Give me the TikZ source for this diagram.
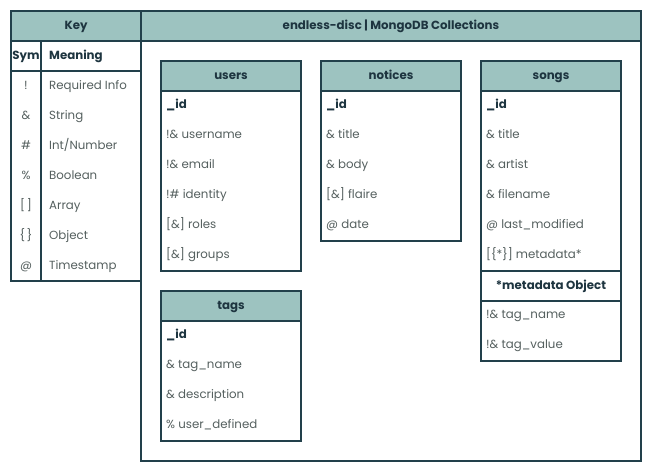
\documentclass[tikz,border=0pt]{standalone}
\usepackage{fontspec}
\setmainfont{Poppins}
\definecolor{hdr}{HTML}{9DC3C0}
\definecolor{edge}{HTML}{22404B}
\definecolor{ftxt}{HTML}{55605F}
\definecolor{htxt}{HTML}{1E3540}
\begin{document}
\begin{tikzpicture}[x=1pt,y=-1pt,
  box/.style={draw=edge,line width=1.6pt},
  hbox/.style={box,fill=hdr},
  htext/.style={font=\bfseries\fontsize{11.8}{13}\selectfont,text=htxt,text height=8.5pt,text depth=2.5pt,inner sep=0pt},
  ftext/.style={font=\fontsize{11.8}{13}\selectfont,text=ftxt,anchor=west,inner sep=0pt,text height=8.5pt,text depth=2.5pt},
  idtext/.style={ftext,font=\bfseries\fontsize{11.8}{13}\selectfont,text=htxt}]
\useasboundingbox (0,0) rectangle (652,472);
\fill[white] (0,0) rectangle (652,472);

% main frame
\draw[box] (141,11) rectangle (641,461);
\draw[hbox] (141,11) rectangle (641,41);
\node[htext] (main) at (391,26) {endless-disc | MongoDB Collections};

% key
\draw[box] (11,11) rectangle (141,281);
\draw[hbox] (11,11) rectangle (141,41);
\draw[box] (11,71) -- (141,71);
\draw[box] (41,41) -- (41,281);
\node[htext] (key) at (76,26) {Key};
\node[htext] (sym) at (26,56) {Sym};
\node[idtext] (meaning) at (49,56) {Meaning};
\foreach \s/\m [count=\i] in {{!}/{Required Info},{\&}/{String},{\#}/{Int/Number},{\%}/{Boolean},{[\,]}/{Array},{\{\,\}}/{Object},{@}/{Timestamp}}{
  \node[ftext,anchor=center] (sym-\i) at (26,56+30*\i) {\s};
  \node[ftext] (mean-\i) at (49,56+30*\i) {\m};
}

% users
\draw[box] (161,61) rectangle (301,271);
\draw[hbox] (161,61) rectangle (301,91);
\node[htext] (users) at (231,76) {users};
\node[idtext] (users-id) at (166,105) {\_id};
\foreach \t [count=\i] in {{!\& username},{!\& email},{!\# identity},{[\&] roles},{[\&] groups}}
  \node[ftext] (users-\i) at (166,105+30*\i) {\t};

% notices
\draw[box] (321,61) rectangle (461,241);
\draw[hbox] (321,61) rectangle (461,91);
\node[htext] (notices) at (391,76) {notices};
\node[idtext] (notices-id) at (326,105) {\_id};
\foreach \t [count=\i] in {{\& title},{\& body},{[\&] flaire},{@ date}}
  \node[ftext] (notices-\i) at (326,105+30*\i) {\t};

% songs
\draw[box] (481,61) rectangle (621,361);
\draw[hbox] (481,61) rectangle (621,91);
\draw[box] (481,271) -- (621,271);
\draw[box] (481,301) -- (621,301);
\node[htext] (songs) at (551,76) {songs};
\node[idtext] (songs-id) at (486,105) {\_id};
\foreach \t [count=\i] in {{\& title},{\& artist},{\& filename},{@ last\_modified},{[\{*\}] metadata*}}
  \node[ftext] (songs-\i) at (486,105+30*\i) {\t};
\node[htext] (meta) at (551,286) {*metadata Object};
\node[ftext] (meta-1) at (486,315) {!\& tag\_name};
\node[ftext] (meta-2) at (486,345) {!\& tag\_value};

% tags
\draw[box] (161,291) rectangle (301,441);
\draw[hbox] (161,291) rectangle (301,321);
\node[htext] (tags) at (231,306) {tags};
\node[idtext] (tags-id) at (166,335) {\_id};
\foreach \t [count=\i] in {{\& tag\_name},{\& description},{\% user\_defined}}
  \node[ftext] (tags-\i) at (166,335+30*\i) {\t};
\end{tikzpicture}
\end{document}
